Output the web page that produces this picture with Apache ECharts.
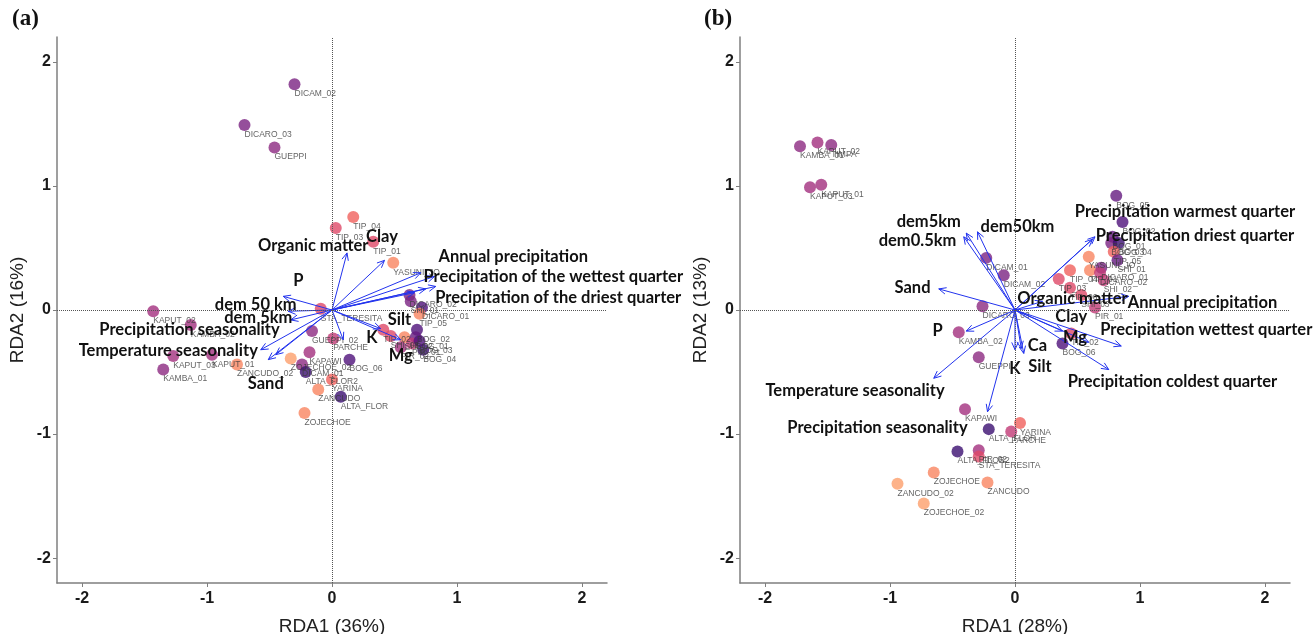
<!DOCTYPE html>
<html>
<head>
<meta charset="utf-8">
<script src="https://cdn.jsdelivr.net/npm/echarts@6/dist/echarts.min.js"></script>
<style>
  html, body { margin: 0; padding: 0; background: #fff; }
  #chart { width: 1314px; height: 634px; }
</style>
</head>
<body>
<div id="chart"></div>
<script>
// ---- panel (a): site scores ----
const aSites = ['DICAM_02','DICARO_03','GUEPPI','TIP_04','TIP_03','TIP_01','YASUNI_JO','DICARO_02','SHI_01','DICARO_01','TIP_05',
  'STA_TERESITA','KAPUT_02','KAMBA_02','GUEPPI_02','PARCHE','TIP_02','SHI_03','SHI_02','BOG_02','BOG_01','PIR_01','PIR_02','BOG_04','BOG_03',
  'KAPUT_03','KAPUT_01','KAMBA_01','ZANCUDO_02','ZOJECHOE_02','KAPAWI','DICAM_01','ALTA_FLOR2','BOG_06','YARINA','ZANCUDO','ALTA_FLOR','ZOJECHOE']
const aRDA1 = [-0.30,-0.70,-0.46,0.17,0.03,0.33,0.49,0.62,0.63,0.72,0.70,
  -0.09,-1.43,-1.13,-0.16,0.01,0.41,0.47,0.58,0.68,0.67,0.64,0.55,0.73,0.70,
  -1.27,-0.96,-1.35,-0.76,-0.33,-0.18,-0.24,-0.21,0.14,0.00,-0.11,0.07,-0.22]
const aRDA2 = [1.82,1.49,1.31,0.75,0.66,0.55,0.38,0.12,0.07,0.02,-0.03,
  0.01,-0.01,-0.12,-0.17,-0.23,-0.16,-0.21,-0.22,-0.16,-0.22,-0.27,-0.30,-0.32,-0.25,
  -0.37,-0.36,-0.48,-0.44,-0.39,-0.34,-0.44,-0.50,-0.40,-0.56,-0.64,-0.70,-0.83]
const aLevel = [4,4,5,9,8,8,10,4,4,2,10,
  8,6,6,5,7,8,8,10,2,3,7,6,1,2,
  6,6,5,10,11,6,5,1,2,9,10,1,10]

// ---- panel (a): environmental vectors ----
const aVars = ['Organic matter','Clay','Annual precipitation','Precipitation of the wettest quarter','Precipitation of the driest quarter',
  'Silt','','P','dem 50 km','dem 5km','Precipitation seasonality','Temperature seasonality','Sand','K','Mg','']
const aVarX = [0.12,0.42,0.71,0.82,0.83,0.75,0.66,-0.39,-0.35,-0.33,-0.57,-0.51,-0.45,0.39,0.55,0.09]
const aVarY = [0.46,0.40,0.30,0.27,0.19,0.17,0.14,0.11,-0.01,-0.08,-0.32,-0.40,-0.36,-0.15,-0.24,-0.24]
const aLabX = [-0.15,0.40,1.45,1.77,1.81,0.54,0,-0.27,-0.61,-0.59,-1.14,-1.31,-0.53,0.32,0.55,0]
const aLabY = [0.52,0.59,0.43,0.27,0.10,-0.08,0,0.24,0.04,-0.06,-0.16,-0.33,-0.59,-0.22,-0.37,0]

// ---- panel (b): site scores ----
const bSites = ['KAMBA_01','KAPUT_02','TIMPA','KAPUT_03','KAPUT_01','DICAM_01','DICAM_02','DICARO_03','KAMBA_02','GUEPPI','KAPAWI',
  'ALTA_FLOR','PARCHE','YARINA','ALTA_FLOR2','PIR_02','STA_TERESITA','ZOJECHOE','ZANCUDO_02','ZANCUDO','ZOJECHOE_02',
  'BOG_05','BOG_02','BOG_01','BOG_03','BOG_04','TIP_05','SHI_01','YASUNI_JO','DICARO_01','TIP_01','TIP_04','DICARO_02','SHI_02',
  'TIP_03','TIP_06','SHI_03','PIR_01','TIP_02','BOG_06']
const bRDA1 = [-1.72,-1.58,-1.47,-1.64,-1.55,-0.23,-0.09,-0.26,-0.45,-0.29,-0.40,
  -0.21,-0.03,0.04,-0.46,-0.29,-0.29,-0.65,-0.94,-0.22,-0.73,
  0.81,0.86,0.78,0.77,0.83,0.79,0.82,0.59,0.69,0.60,0.44,0.68,0.71,
  0.35,0.44,0.53,0.64,0.45,0.38]
const bRDA2 = [1.32,1.35,1.33,0.99,1.01,0.42,0.28,0.03,-0.18,-0.38,-0.80,
  -0.96,-0.98,-0.91,-1.14,-1.13,-1.18,-1.31,-1.40,-1.39,-1.56,
  0.92,0.71,0.59,0.54,0.54,0.47,0.40,0.43,0.34,0.32,0.32,0.30,0.24,
  0.25,0.18,0.12,0.02,-0.19,-0.27]
const bLevel = [5,6,5,6,6,4,4,5,6,5,6,
  1,7,9,1,6,8,10,11,10,11,
  3,2,3,4,1,9,3,10,4,10,9,7,7,
  8,8,8,7,8,2]

// ---- panel (b): environmental vectors ----
const bVars = ['dem5km','dem50km','dem0.5km','Sand','P','Temperature seasonality','Precipitation seasonality','K','Ca','Silt',
  'Organic matter','Clay','Mg','Annual precipitation','Precipitation wettest quarter','Precipitation coldest quarter',
  'Precipitation warmest quarter','Precipitation driest quarter']
const bVarX = [-0.39,-0.30,-0.41,-0.61,-0.39,-0.65,-0.22,0.00,0.07,0.05,0.22,0.38,0.59,0.91,0.85,0.75,0.64,0.62]
const bVarY = [0.62,0.63,0.59,0.17,-0.17,-0.55,-0.82,-0.32,-0.35,-0.31,0.07,-0.17,-0.26,0.11,-0.29,-0.48,0.59,0.57]
const bLabX = [-0.69,0.02,-0.78,-0.82,-0.62,-1.28,-1.10,0.00,0.18,0.20,0.46,0.45,0.48,1.50,1.53,1.26,1.36,1.44]
const bLabY = [0.71,0.67,0.56,0.18,-0.17,-0.65,-0.95,-0.47,-0.29,-0.46,0.09,-0.05,-0.22,0.06,-0.16,-0.58,0.79,0.60]

const tickValues = [-2, -1, 0, 1, 2]
const palette = ['#3b0f70','#4f127b','#641a80','#7a2382','#8c2981','#a3307e','#c03a76','#de4968','#f0605d','#f98460','#fd9f6c']
const arrowColor = '#2233ee'

const chart = echarts.init(document.getElementById('chart'), null, { renderer: 'canvas' })

function siteData(names, xs, ys, levels) {
  return names.map((n, i) => ({
    name: n,
    value: [xs[i], ys[i]],
    itemStyle: { color: palette[levels[i] - 1] }
  }))
}

function xAxisFor(idx, name) {
  return {
    type: 'value', gridIndex: idx, min: -2.2, max: 2.2,
    name: name, nameLocation: 'middle', nameGap: 34,
    nameTextStyle: { fontSize: 19, color: '#222', fontFamily: 'Liberation Sans' },
    axisLine: { onZero: false, lineStyle: { color: '#7f7f7f', width: 1.5 } },
    axisTick: { customValues: tickValues, length: 4, lineStyle: { color: '#7f7f7f' } },
    axisLabel: { customValues: tickValues, fontSize: 16, fontWeight: 'bold', color: '#1a1a1a', fontFamily: 'Liberation Sans', margin: 8 },
    splitLine: { show: false }
  }
}

function yAxisFor(idx, name) {
  return {
    type: 'value', gridIndex: idx, min: -2.2, max: 2.2,
    name: name, nameLocation: 'middle', nameGap: 30,
    nameTextStyle: { fontSize: 19, color: '#222', fontFamily: 'Liberation Sans' },
    axisLine: { onZero: false, lineStyle: { color: '#7f7f7f', width: 1.5 } },
    axisTick: { customValues: tickValues, length: 4, lineStyle: { color: '#7f7f7f' } },
    axisLabel: { customValues: tickValues, fontSize: 16, fontWeight: 'bold', color: '#1a1a1a', fontFamily: 'Liberation Sans', margin: 6 },
    splitLine: { show: false }
  }
}

// arrow from origin with an open "V" head
function arrowItem(params, api) {
  const o = api.coord([0, 0])
  const t = api.coord([api.value(0), api.value(1)])
  const ang = Math.atan2(t[1] - o[1], t[0] - o[0])
  const h = 8, w = 0.42
  const p1 = [t[0] - h * Math.cos(ang - w), t[1] - h * Math.sin(ang - w)]
  const p2 = [t[0] - h * Math.cos(ang + w), t[1] - h * Math.sin(ang + w)]
  return {
    type: 'group',
    children: [
      { type: 'line', shape: { x1: o[0], y1: o[1], x2: t[0], y2: t[1] }, style: { stroke: arrowColor, lineWidth: 1 } },
      { type: 'polyline', shape: { points: [p1, t, p2] }, style: { stroke: arrowColor, lineWidth: 1, fill: null } }
    ]
  }
}

function labelRenderer(names) {
  return function (params, api) {
    const p = api.coord([api.value(0), api.value(1)])
    return {
      type: 'text', x: p[0], y: p[1],
      style: {
        text: names[params.dataIndex], fill: '#111',
        font: 'bold 16.5px Lato, "Open Sans", sans-serif',
        align: 'center', verticalAlign: 'middle'
      }
    }
  }
}

function panelSeries(idx, names, xs, ys, levels, vars, vx, vy, lx, ly) {
  return [
    {
      type: 'scatter', xAxisIndex: idx, yAxisIndex: idx, z: 2,
      symbolSize: 12,
      data: siteData(names, xs, ys, levels),
      label: {
        show: true, formatter: '{b}', position: [6, 11],
        align: 'left', verticalAlign: 'top',
        fontSize: 8.5, color: '#3a3a3a', fontFamily: 'Liberation Sans'
      },
      markLine: {
        silent: true, symbol: 'none', animation: false,
        label: { show: false },
        lineStyle: { type: 'dotted', color: '#555', width: 1 },
        data: [{ xAxis: 0 }, { yAxis: 0 }]
      }
    },
    {
      type: 'custom', xAxisIndex: idx, yAxisIndex: idx, z: 3,
      renderItem: arrowItem,
      data: vx.map((x, i) => [x, vy[i]])
    },
    {
      type: 'custom', xAxisIndex: idx, yAxisIndex: idx, z: 4,
      renderItem: labelRenderer(vars),
      data: lx.map((x, i) => [x, ly[i]])
    }
  ]
}

const option = {
  animation: false,
  backgroundColor: '#fff',
  title: [
    { text: '(a)', left: 7, top: 3, textStyle: { fontFamily: 'Liberation Serif', fontWeight: 'bold', fontSize: 23, color: '#111' } },
    { text: '(b)', left: 699, top: 3, textStyle: { fontFamily: 'Liberation Serif', fontWeight: 'bold', fontSize: 23, color: '#111' } }
  ],
  grid: [
    { left: 57, top: 37, width: 550, height: 546, outerBoundsMode: 'none' },
    { left: 740, top: 37, width: 550, height: 546, outerBoundsMode: 'none' }
  ],
  xAxis: [xAxisFor(0, 'RDA1 (36%)'), xAxisFor(1, 'RDA1 (28%)')],
  yAxis: [yAxisFor(0, 'RDA2 (16%)'), yAxisFor(1, 'RDA2 (13%)')],
  series: [
    ...panelSeries(0, aSites, aRDA1, aRDA2, aLevel, aVars, aVarX, aVarY, aLabX, aLabY),
    ...panelSeries(1, bSites, bRDA1, bRDA2, bLevel, bVars, bVarX, bVarY, bLabX, bLabY)
  ]
}

chart.setOption(option)
</script>
</body>
</html>
